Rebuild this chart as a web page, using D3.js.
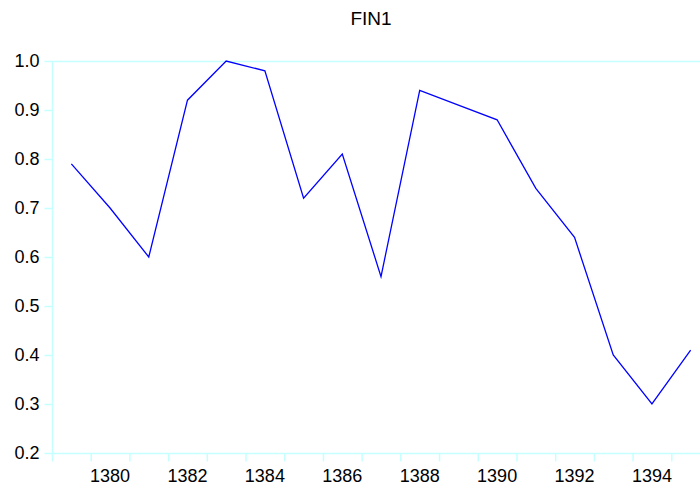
<!DOCTYPE html>
<html>
<head>
<meta charset="utf-8">
<script src="https://cdn.jsdelivr.net/npm/d3@7"></script>
<style>
  html, body { margin: 0; padding: 0; background: #fff; }
  svg { display: block; font-family: "Liberation Sans", Arial, sans-serif; }
</style>
</head>
<body>
<div id="chart"></div>
<script>
// chart data
const years = [1379, 1380, 1381, 1382, 1383, 1384, 1385, 1386, 1387,
               1388, 1389, 1390, 1391, 1392, 1393, 1394, 1395];
const fin1 = [0.79, 0.70, 0.60, 0.92, 1.00, 0.98, 0.72, 0.81, 0.56,
              0.94, 0.91, 0.88, 0.74, 0.64, 0.40, 0.30, 0.41];
const yTicks = [0.2, 0.3, 0.4, 0.5, 0.6, 0.7, 0.8, 0.9, 1.0];
const xLabels = [1380, 1382, 1384, 1386, 1388, 1390, 1392, 1394];
const title = "FIN1";

const W = 700, H = 488;
const margin = { left: 52, top: 61, bottom: 35 };
const plotRight = 710;   // frame runs past the window edge
const height = H - margin.top - margin.bottom;
const axisColor = "#c6ffff";

const svg = d3.select("div#chart")
  .append("svg")
  .attr("width", W)
  .attr("height", H);

// years sit between tick marks
const x = d3.scaleLinear()
  .domain([years[0] - 0.5, years[years.length - 1] + 0.5])
  .range([margin.left, plotRight]);

const y = d3.scaleLinear()
  .domain([0.2, 1.0])
  .range([margin.top + height, margin.top]);

// frame
svg.append("rect")
  .attr("x", margin.left + 0.5)
  .attr("y", margin.top + 0.5)
  .attr("width", plotRight - margin.left)
  .attr("height", height)
  .attr("fill", "none")
  .attr("stroke", axisColor)
  .attr("stroke-width", 1.5);

// y axis
const yAxis = svg.append("g")
  .attr("transform", `translate(${margin.left + 0.5},0)`)
  .call(d3.axisLeft(y).tickValues(yTicks).tickFormat(d3.format(".1f"))
    .tickSize(8).tickPadding(5));
yAxis.select(".domain").remove();
yAxis.selectAll("line").attr("stroke", axisColor).attr("stroke-width", 1.5);
yAxis.selectAll("text")
  .attr("fill", "#000")
  .style("font-size", "18px")
  .style("font-family", "Liberation Sans, Arial, sans-serif");

// x axis: tick marks at year boundaries, labels at years
const boundaries = d3.range(years[0] - 0.5, years[years.length - 1] + 1, 1);
const xAxis = svg.append("g")
  .attr("transform", `translate(0,${margin.top + height + 0.5})`)
  .call(d3.axisBottom(x).tickValues(boundaries).tickFormat("").tickSize(8));
xAxis.select(".domain").remove();
xAxis.selectAll("line").attr("stroke", axisColor).attr("stroke-width", 1.5);

svg.append("g").selectAll("text")
  .data(xLabels)
  .enter().append("text")
  .attr("x", d => x(d))
  .attr("y", margin.top + height + 29)
  .attr("text-anchor", "middle")
  .attr("fill", "#000")
  .style("font-size", "18px")
  .text(d => d);

// series line
const line = d3.line()
  .x((d, i) => x(years[i]))
  .y(d => y(d));

svg.append("path")
  .datum(fin1)
  .attr("d", line)
  .attr("fill", "none")
  .attr("stroke", "#0000ff")
  .attr("stroke-width", 1.3);

// title
svg.append("text")
  .attr("x", (margin.left + plotRight) / 2 - 10)
  .attr("y", 25)
  .attr("text-anchor", "middle")
  .attr("fill", "#000")
  .style("font-size", "19px")
  .text(title);
</script>
</body>
</html>
